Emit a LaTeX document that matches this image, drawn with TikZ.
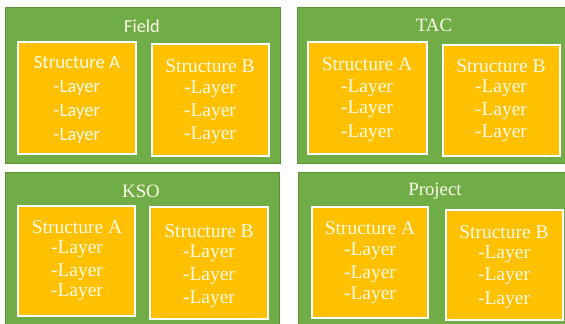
\documentclass[tikz,border=0pt]{standalone}
\usepackage{fontspec}
\setmainfont{Liberation Serif}
\newfontfamily\calib{Carlito}
\definecolor{pgreen}{HTML}{70AD47}
\definecolor{pgreenedge}{HTML}{5B8F3A}
\definecolor{sorange}{HTML}{FFC000}
\definecolor{cream}{HTML}{FFFBEA}
\begin{document}
\begin{tikzpicture}[x=1pt,y=-1pt,
  panel/.style={draw=pgreenedge,fill=pgreen,line width=1pt},
  sbox/.style={draw=white,fill=sorange,line width=1.6pt},
  ttl/.style={text=cream,inner sep=0pt,font=\fontsize{18.8}{20}\selectfont},
  txt/.style={text=cream,inner sep=0pt,font=\fontsize{19.5}{21}\selectfont},
  ctxt/.style={text=cream,inner sep=0pt,font=\calib\fontsize{18.8}{20}\selectfont}]
\useasboundingbox (0,0) rectangle (565,324);
% panels
\draw[panel] (5,7) rectangle (280,163);
\draw[panel] (297,7) rectangle (567,163);
\draw[panel] (5,172) rectangle (279,326);
\draw[panel] (298,172) rectangle (567,326);
% structure boxes
\draw[sbox] (18,42) rectangle (136,154);
\draw[sbox] (152,44) rectangle (269,156);
\draw[sbox] (308,42) rectangle (427,154);
\draw[sbox] (443,45) rectangle (560,156);
\draw[sbox] (18,206) rectangle (135,316);
\draw[sbox] (150,207) rectangle (268,319);
\draw[sbox] (312,207) rectangle (428,318);
\draw[sbox] (446,210) rectangle (563,320);
% titles
\node[ttl,font=\calib\fontsize{18.3}{20}\selectfont] (tField) at (142,26) {Field};
\node[ttl] (tTAC) at (434,25.5) {TAC};
\node[ttl] (tKSO) at (141,191.5) {KSO};
\node[ttl] (tProj) at (435,191) {Project};
% Field A (sans)
\node[ctxt] (fa0) at (77,62.5) {Structure A};
\node[ctxt] (fa1) at (77,87.5) {-Layer};
\node[ctxt] (fa2) at (77,111.5) {-Layer};
\node[ctxt] (fa3) at (77,135.5) {-Layer};
% Field B
\node[txt] (fb0) at (210,66.5) {Structure B};
\node[txt] (fb1) at (210,89.5) {-Layer};
\node[txt] (fb2) at (210,112.5) {-Layer};
\node[txt] (fb3) at (210,135.5) {-Layer};
% TAC A
\node[txt] (ta0) at (367,64.5) {Structure A};
\node[txt] (ta1) at (367,88.5) {-Layer};
\node[txt] (ta2) at (367,109.5) {-Layer};
\node[txt] (ta3) at (367,133.5) {-Layer};
% TAC B
\node[txt] (tb0) at (501,66.5) {Structure B};
\node[txt] (tb1) at (501,88.5) {-Layer};
\node[txt] (tb2) at (501,111.5) {-Layer};
\node[txt] (tb3) at (501,133.5) {-Layer};
% KSO A
\node[txt] (ka0) at (77,227.5) {Structure A};
\node[txt] (ka1) at (77,249.5) {-Layer};
\node[txt] (ka2) at (77,272.5) {-Layer};
\node[txt] (ka3) at (77,292.5) {-Layer};
% KSO B
\node[txt] (kb0) at (209,231.5) {Structure B};
\node[txt] (kb1) at (209,253.5) {-Layer};
\node[txt] (kb2) at (209,276.5) {-Layer};
\node[txt] (kb3) at (209,299.5) {-Layer};
% Project A
\node[txt] (pa0) at (370,228.5) {Structure A};
\node[txt] (pa1) at (370,251.5) {-Layer};
\node[txt] (pa2) at (370,274.5) {-Layer};
\node[txt] (pa3) at (370,295.5) {-Layer};
% Project B
\node[txt] (pb0) at (504,232.5) {Structure B};
\node[txt] (pb1) at (504,254.5) {-Layer};
\node[txt] (pb2) at (504,276.5) {-Layer};
\node[txt] (pb3) at (504,300.5) {-Layer};
\end{tikzpicture}
\end{document}
